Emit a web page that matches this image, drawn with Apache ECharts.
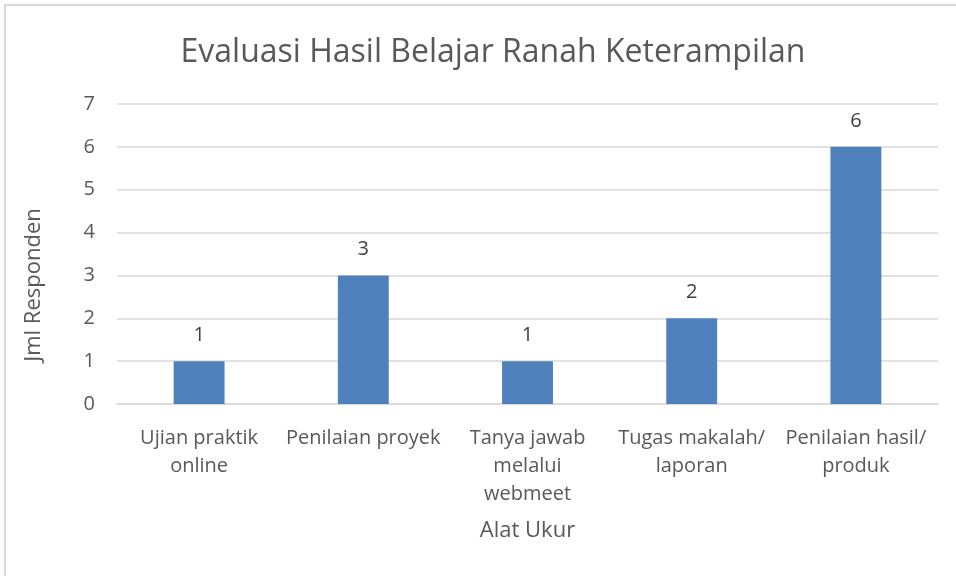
<!DOCTYPE html>
<html>
<head>
<meta charset="utf-8">
<script src="https://cdn.jsdelivr.net/npm/echarts@6/dist/echarts.min.js"></script>
<style>
  html, body { margin: 0; padding: 0; background: #fff; overflow: hidden; }
  #frame { position: absolute; left: 4px; top: 4px; width: 960px; height: 580px; border: 2px solid #d9d9d9; box-sizing: border-box; }
  #chart { position: absolute; left: 0; top: 0; width: 956px; height: 576px; }
</style>
</head>
<body>
<div id="frame"></div>
<div id="chart"></div>
<script>
// chart data
let categories = ['Ujian praktik\nonline', 'Penilaian proyek', 'Tanya jawab\nmelalui\nwebmeet', 'Tugas makalah/\nlaporan', 'Penilaian hasil/\nproduk'];
let values = [1, 3, 1, 2, 6];
let yTicks = [0, 1, 2, 3, 4, 5, 6, 7];

let font = '"Open Sans", "Noto Sans", sans-serif';
let grey = '#595959';

let chart = echarts.init(document.getElementById('chart'));
chart.setOption({
  animation: false,
  textStyle: { fontFamily: font },
  title: {
    text: 'Evaluasi Hasil Belajar Ranah Keterampilan',
    left: 488,
    textAlign: 'center',
    top: 32,
    textStyle: { fontFamily: font, fontSize: 32, fontWeight: 'normal', color: grey }
  },
  grid: { left: 117, right: 18, top: 104, bottom: 172 },
  xAxis: {
    type: 'category',
    data: categories,
    name: 'Alat Ukur',
    nameLocation: 'middle',
    nameGap: 116,
    nameTextStyle: { fontSize: 22, color: grey },
    axisTick: { show: false },
    axisLine: { lineStyle: { color: '#d9d9d9', width: 1.5 } },
    axisLabel: { fontSize: 20, color: grey, margin: 20, lineHeight: 28, interval: 0 }
  },
  yAxis: {
    type: 'value',
    min: yTicks[0],
    max: yTicks[yTicks.length - 1],
    interval: 1,
    name: 'Jml Responden',
    nameLocation: 'middle',
    nameGap: 72,
    nameTextStyle: { fontSize: 22, color: grey, padding: [0, 0, 0, -62] },
    axisLabel: { fontSize: 20, color: grey, margin: 22 },
    splitLine: { lineStyle: { color: '#d9d9d9', width: 1.5 } }
  },
  series: [{
    type: 'bar',
    data: values,
    barWidth: '31%',
    itemStyle: { color: '#4f81bd' },
    label: { show: true, position: 'top', distance: 16, fontSize: 20, color: '#404040' }
  }]
});
</script>
</body>
</html>
